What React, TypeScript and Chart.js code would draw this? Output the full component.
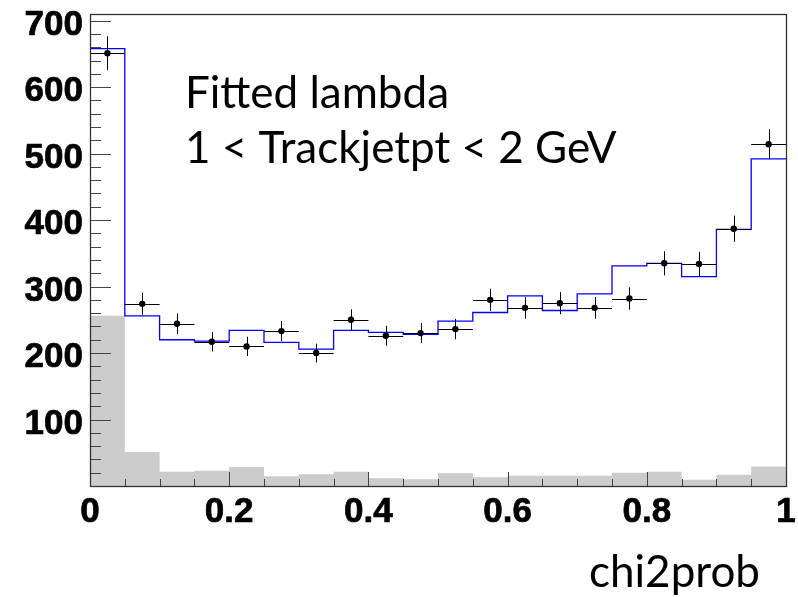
import React, { useEffect, useRef } from 'react';
import { Chart, registerables } from 'chart.js';

Chart.register(...registerables);

// ---- data ----
const binEdges = [0, 0.05, 0.1, 0.15, 0.2, 0.25, 0.3, 0.35, 0.4, 0.45, 0.5, 0.55, 0.6, 0.65, 0.7, 0.75, 0.8, 0.85, 0.9, 0.95, 1];
const backgroundCounts = [256, 51, 21.5, 23, 28.5, 14.5, 17.5, 21.5, 11.5, 10, 19, 13, 15.5, 15.5, 15.5, 20, 21.5, 9.5, 17, 29.5];
const fitCounts = [658, 256, 220, 218, 234, 216, 206, 234, 231, 228, 248, 261, 286, 264, 289, 331, 335, 315, 386, 492];
const dataCounts = [651, 274, 244, 217, 210, 233, 200, 250, 226, 230, 236, 280, 268, 275, 268, 282, 335, 334, 387, 514];
const dataErrors = [25.5, 16.6, 15.6, 14.7, 14.5, 15.3, 14.1, 15.8, 15, 15.2, 15.4, 16.7, 16.4, 16.6, 16.4, 16.8, 18.3, 18.3, 19.7, 22.7];
const xTickValues = [0, 0.2, 0.4, 0.6, 0.8, 1];
const xTickLabels = ['0', '0.2', '0.4', '0.6', '0.8', '1'];
const yTickValues = [100, 200, 300, 400, 500, 600, 700];
const yTickLabels = ['100', '200', '300', '400', '500', '600', '700'];
const annotationLines = ['Fitted lambda', '1 < Trackjetpt < 2 GeV'];
const xAxisTitle = 'chi2prob';

const Y_MAX = 710;
const TICK_FONT = 'bold 35px "Liberation Sans", Arial, sans-serif';
const TEXT_FONT = '44px Lato, "Open Sans", sans-serif';

function stepPoints(values: number[]) {
  const pts = values.map((v, i) => ({ x: binEdges[i], y: v }));
  pts.push({ x: binEdges[binEdges.length - 1], y: values[values.length - 1] });
  return pts;
}

function boldText(ctx: CanvasRenderingContext2D, s: string, x: number, y: number) {
  ctx.fillText(s, x, y);
  ctx.strokeText(s, x, y);
}

const rootStyle = {
  id: 'rootStyle',
  afterDatasetsDraw(chart: any) {
    const { ctx, chartArea: a, scales } = chart;
    const x = scales.x;
    const y = scales.y;
    ctx.save();

    // error bars
    ctx.strokeStyle = '#000';
    ctx.lineWidth = 1;
    for (let i = 0; i < dataCounts.length; i++) {
      const lo = binEdges[i];
      const hi = binEdges[i + 1];
      const cx = x.getPixelForValue((lo + hi) / 2);
      const cy = y.getPixelForValue(dataCounts[i]);
      ctx.beginPath();
      ctx.moveTo(x.getPixelForValue(lo), Math.round(cy) + 0.5);
      ctx.lineTo(x.getPixelForValue(hi), Math.round(cy) + 0.5);
      ctx.moveTo(Math.round(cx) + 0.5, y.getPixelForValue(dataCounts[i] - dataErrors[i]));
      ctx.lineTo(Math.round(cx) + 0.5, y.getPixelForValue(dataCounts[i] + dataErrors[i]));
      ctx.stroke();
    }

    // inward ticks, ROOT style
    ctx.strokeStyle = '#444';
    ctx.lineWidth = 1;
    ctx.beginPath();
    for (let v = 0; v <= Y_MAX; v += 20) {
      const py = Math.round(y.getPixelForValue(v)) + 0.5;
      const len = v % 100 === 0 ? 21 : 11;
      ctx.moveTo(a.left, py);
      ctx.lineTo(a.left + len, py);
    }
    for (let i = 0; i < binEdges.length; i++) {
      const px = Math.round(x.getPixelForValue(binEdges[i])) + 0.5;
      const len = i % 4 === 0 ? 14 : 7;
      ctx.moveTo(px, a.bottom);
      ctx.lineTo(px, a.bottom - len);
    }
    ctx.stroke();

    // frame
    ctx.strokeStyle = '#333';
    ctx.lineWidth = 1.3;
    ctx.strokeRect(Math.round(a.left) + 0.5, Math.round(a.top) + 0.5, Math.round(a.right - a.left), Math.round(a.bottom - a.top));

    // tick labels (positioned with the chart's scales)
    ctx.fillStyle = '#000';
    ctx.strokeStyle = '#000';
    ctx.lineWidth = 0.7;
    ctx.font = TICK_FONT;
    ctx.textBaseline = 'alphabetic';
    ctx.textAlign = 'right';
    yTickValues.forEach((v, i) => {
      boldText(ctx, yTickLabels[i], a.left - 7, y.getPixelForValue(v) + 14);
    });
    ctx.textAlign = 'center';
    xTickValues.forEach((v, i) => {
      boldText(ctx, xTickLabels[i], x.getPixelForValue(v), a.bottom + 36);
    });

    // annotation text
    ctx.textAlign = 'left';
    ctx.font = TEXT_FONT;
    ctx.fillText(annotationLines[0], 185, 108);
    ctx.fillText(annotationLines[1], 185, 163);
    ctx.fillText(xAxisTitle, 589, 587);
    ctx.restore();
  },
};

export default function App() {
  const ref = useRef<HTMLCanvasElement | null>(null);

  useEffect(() => {
    if (!ref.current) return;
    const chart = new Chart(ref.current, {
      type: 'scatter',
      data: {
        datasets: [
          {
            type: 'line',
            label: 'background',
            data: stepPoints(backgroundCounts),
            stepped: true,
            fill: 'origin',
            backgroundColor: '#cccccc',
            borderColor: 'rgba(0,0,0,0)',
            borderWidth: 0,
            pointRadius: 0,
            order: 3,
          },
          {
            type: 'line',
            label: 'fit',
            data: stepPoints(fitCounts),
            stepped: true,
            fill: false,
            borderColor: '#0000ff',
            borderWidth: 1.3,
            pointRadius: 0,
            order: 2,
          },
          {
            type: 'scatter',
            label: 'data',
            data: dataCounts.map((v, i) => ({ x: (binEdges[i] + binEdges[i + 1]) / 2, y: v })),
            pointRadius: 3.2,
            pointBackgroundColor: '#000',
            pointBorderColor: '#000',
            pointBorderWidth: 0,
            showLine: false,
            order: 1,
          },
        ],
      },
      options: {
        responsive: false,
        animation: false,
        events: [],
        layout: { padding: { top: 14, right: 12, left: 0, bottom: 0 } },
        plugins: { legend: { display: false }, tooltip: { enabled: false }, title: { display: false } },
        scales: {
          x: {
            type: 'linear',
            min: 0,
            max: 1,
            grid: { display: false, drawTicks: false },
            border: { display: false },
            ticks: { display: false, stepSize: 0.2 },
            afterFit: (s: any) => {
              s.height = 111;
              s.paddingLeft = 0;
              s.paddingRight = 0;
            },
          },
          y: {
            type: 'linear',
            min: 0,
            max: Y_MAX,
            grid: { display: false, drawTicks: false },
            border: { display: false },
            ticks: { display: false, stepSize: 100 },
            afterFit: (s: any) => {
              s.width = 90;
              s.paddingTop = 0;
              s.paddingBottom = 0;
            },
          },
        },
      },
      plugins: [rootStyle],
    });
    return () => chart.destroy();
  }, []);

  return (
    <div style={{ position: 'fixed', left: 0, top: 0, width: 798, height: 597, background: '#fff' }}>
      <canvas ref={ref} width={798} height={597} />
    </div>
  );
}
